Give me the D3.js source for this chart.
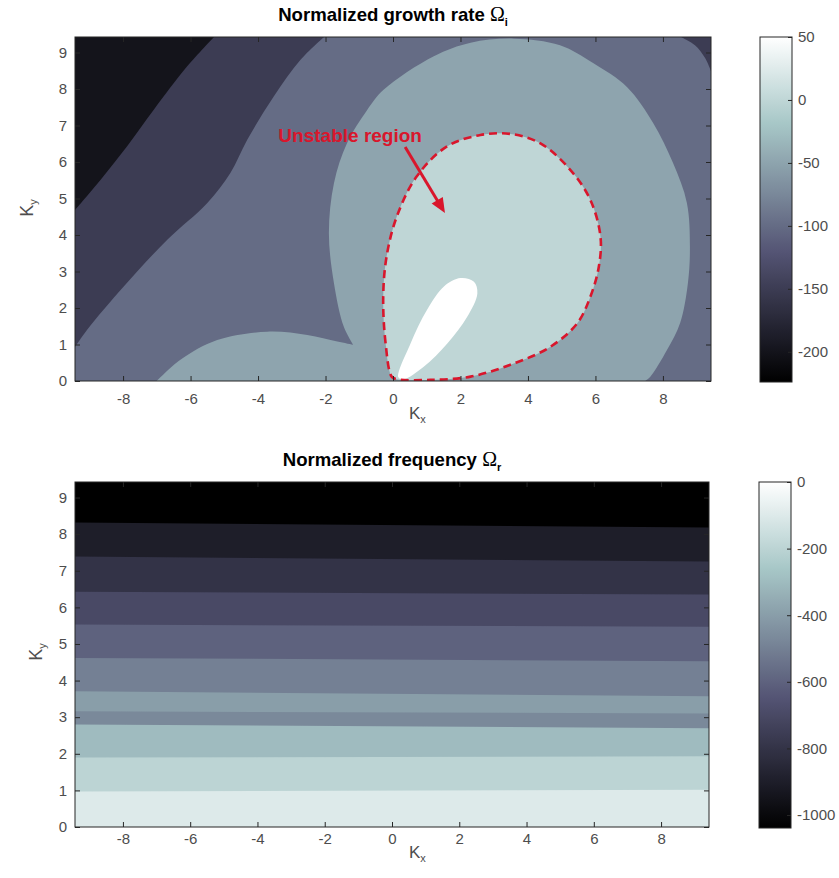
<!DOCTYPE html>
<html>
<head>
<meta charset="utf-8">
<script src="https://cdn.jsdelivr.net/npm/d3@7"></script>
<style>
  body { margin: 0; background: #fff; }
  text { font-family: "Liberation Sans", Arial, sans-serif; }
</style>
</head>
<body>
<svg id="fig"></svg>
<script>
// wave number axes run from -3pi..3pi (Kx) and 0..3pi (Ky)
const kxDomain = [-3 * Math.PI, 3 * Math.PI];
const kyDomain = [0, 3 * Math.PI];
const kxTicks = [-8, -6, -4, -2, 0, 2, 4, 6, 8];
const kyTicks = [0, 1, 2, 3, 4, 5, 6, 7, 8, 9];

// growth rate: colour range and colorbar ticks
const growthRange = [-224, 50];
const growthTicks = [-200, -150, -100, -50, 0, 50];

// growth rate contour zones, [Kx, Ky] boundary points
const backgroundLevel = -100;
const darkEdge = [[-2.05, 9.42], [-2.74, 8.8], [-3.53, 7.8], [-4.32, 6.61], [-4.82, 5.7], [-5.51, 4.87],
                  [-6.69, 3.87], [-7.98, 2.59], [-9.07, 1.40], [-9.42, 0.94]];
const darkLevel = -150;
const blackEdge = [[-5.31, 9.42], [-6.10, 8.62], [-7.09, 7.43], [-7.88, 6.43], [-8.67, 5.51], [-9.42, 4.69]];
const blackLevel = -200;
const cornerEdge = [[8.55, 9.42], [8.95, 9.2], [9.25, 8.85], [9.42, 8.5]];
const cornerLevel = -150;
const ringEdge = [[7.47, 0], [7.62, 0.11], [8.12, 0.85], [8.51, 1.59], [8.74, 2.68], [8.80, 3.67], [8.71, 4.88],
                  [8.30, 5.97], [7.71, 7.07], [6.94, 8.05], [5.93, 8.71], [4.95, 9.2], [3.58, 9.38], [2.3, 9.27],
                  [1.21, 8.9], [-0.28, 7.98], [-0.77, 7.42], [-1.36, 6.52], [-1.75, 5.42], [-1.9, 4.05],
                  [-1.75, 2.68], [-1.46, 1.49], [-1.18, 0.99]];
const domeEdge = [[-1.18, 0.99], [-1.65, 1.08], [-2.54, 1.26], [-3.73, 1.35], [-5.21, 1.12], [-6.3, 0.58], [-7.0, 0]];
const ringLevel = -50;
const unstableEdge = [[-0.04, 0.12], [-0.22, 1.04], [-0.29, 2.31], [-0.19, 3.41], [0.11, 4.5], [0.70, 5.6],
                      [1.59, 6.42], [2.59, 6.74], [3.48, 6.77], [4.37, 6.51], [5.26, 5.78], [5.85, 4.96],
                      [6.15, 3.95], [6.1, 3.13], [5.85, 2.31], [5.46, 1.58], [4.67, 0.94], [3.58, 0.48],
                      [2.30, 0.12], [1.11, 0.03], [0.11, 0.05]];
const unstableLevel = 0;
const peakEdge = [[0.16, 0.1], [0.52, 1.03], [1.01, 1.95], [1.51, 2.59], [2.0, 2.82], [2.40, 2.72], [2.50, 2.40],
                  [2.20, 1.76], [1.61, 1.03], [0.91, 0.39], [0.32, 0.05]];
const peakLevel = 50;

// annotation
const noteText = "Unstable region";
const noteAt = [-1.27, 6.56];
const arrowFrom = [0.36, 6.41];
const arrowTo = [1.54, 4.6];

// frequency: colour range, ticks and horizontal bands (edge Ky at left / right side)
const freqRange = [-1039, 0];
const freqTicks = [-1000, -800, -600, -400, -200, 0];
const freqLevels = [-100, -200, -300, -470, -400, -500, -600, -700, -800, -900, -1039];
const freqEdgeLeft = [0.97, 1.90, 2.80, 3.16, 3.71, 4.62, 5.53, 6.43, 7.39, 8.32];
const freqEdgeRight = [1.02, 1.93, 2.70, 3.10, 3.57, 4.53, 5.47, 6.35, 7.25, 8.18];

const red = "#d9162c";
const axisColor = "#262626";
const labelColor = "#4d4d4d";

// matlab "bone" colormap
function bone(t) {
  const c = v => Math.max(0, Math.min(1, v));
  const r = (7 * t + c(4 * t - 3)) / 8;
  const g = (7 * t + c(8 / 3 * t - 1)) / 8;
  const b = (7 * t + c(8 / 3 * t)) / 8;
  return d3.rgb(r * 255, g * 255, b * 255).formatHex();
}

const svg = d3.select("#fig").attr("width", 839).attr("height", 878);
const defs = svg.append("defs");

function drawPanel(p) {
  const x = d3.scaleLinear().domain(kxDomain).range([p.left, p.right]);
  const y = d3.scaleLinear().domain(kyDomain).range([p.bottom, p.top]);
  const color = d3.scaleSequential(bone).domain(p.range);

  defs.append("clipPath").attr("id", "clip-" + p.id)
    .append("rect")
    .attr("x", p.left).attr("y", p.top)
    .attr("width", p.right - p.left).attr("height", p.bottom - p.top);

  const plot = svg.append("g").attr("clip-path", "url(#clip-" + p.id + ")");
  p.fill(plot, x, y, color);

  // axes, ticks pointing inward
  const fmt = d => String(d);
  const axes = svg.append("g");
  axes.append("g").attr("transform", "translate(0," + p.bottom + ")")
    .call(d3.axisBottom(x).tickValues(kxTicks).tickSize(-5).tickPadding(p.xPad).tickFormat(fmt));
  axes.append("g").attr("transform", "translate(0," + p.top + ")")
    .call(d3.axisTop(x).tickValues(kxTicks).tickSize(-5).tickFormat(""));
  axes.append("g").attr("transform", "translate(" + p.left + ",0)")
    .call(d3.axisLeft(y).tickValues(kyTicks).tickSize(-5).tickPadding(8).tickFormat(fmt));
  axes.append("g").attr("transform", "translate(" + p.right + ",0)")
    .call(d3.axisRight(y).tickValues(kyTicks).tickSize(-5).tickFormat(""));
  axes.selectAll(".domain").remove();
  axes.selectAll(".tick line").attr("stroke", axisColor);
  axes.selectAll(".tick text").attr("fill", labelColor).style("font-size", "15px");

  svg.append("rect")
    .attr("x", p.left).attr("y", p.top)
    .attr("width", p.right - p.left).attr("height", p.bottom - p.top)
    .attr("fill", "none").attr("stroke", axisColor);

  // colorbar
  const grad = defs.append("linearGradient").attr("id", "grad-" + p.id)
    .attr("x1", 0).attr("y1", 1).attr("x2", 0).attr("y2", 0);
  grad.selectAll("stop").data(d3.range(0, 1.0001, 0.025)).join("stop")
    .attr("offset", d => d).attr("stop-color", d => bone(d));

  const cb = d3.scaleLinear().domain(p.range).range([p.cbBottom, p.cbTop]);
  svg.append("rect")
    .attr("x", p.cbLeft).attr("y", p.cbTop)
    .attr("width", p.cbWidth).attr("height", p.cbBottom - p.cbTop)
    .attr("fill", "url(#grad-" + p.id + ")")
    .attr("stroke", axisColor);
  const cbAxis = svg.append("g").attr("transform", "translate(" + (p.cbLeft + p.cbWidth) + ",0)")
    .call(d3.axisRight(cb).tickValues(p.ticks).tickSize(-4).tickPadding(6).tickFormat(fmt));
  cbAxis.select(".domain").remove();
  cbAxis.selectAll(".tick line").attr("stroke", axisColor);
  cbAxis.selectAll(".tick text").attr("fill", labelColor).style("font-size", "15px");

  // title
  const title = svg.append("text")
    .attr("x", (p.left + p.right) / 2).attr("y", p.titleY)
    .attr("text-anchor", "middle")
    .style("font-size", "18.6px").style("font-weight", "bold").attr("fill", "#000");
  title.append("tspan").text(p.title + " ");
  title.append("tspan").text("Ω")
    .style("font-family", "'Liberation Serif', serif").style("font-weight", "normal").style("font-size", "20px");
  title.append("tspan").text(p.sub).attr("dy", 5).style("font-size", "11px");

  // axis labels
  const kx = svg.append("text")
    .attr("x", p.kxX).attr("y", p.kxY)
    .attr("fill", labelColor).style("font-size", "17px");
  kx.append("tspan").text("K");
  kx.append("tspan").text("x").attr("dy", 4).style("font-size", "11px");

  const ky = svg.append("text")
    .attr("transform", "translate(" + p.kyX + "," + p.kyY + ") rotate(-90)")
    .attr("text-anchor", "middle")
    .attr("fill", labelColor).style("font-size", "18px");
  ky.append("tspan").text("K");
  ky.append("tspan").text("y").attr("dy", 4).style("font-size", "11px");
}

function smooth(x, y) {
  return d3.line().x(d => x(d[0])).y(d => y(d[1])).curve(d3.curveCatmullRom.alpha(0.5));
}

// join several curve pieces and straight corner points into one closed path
function zone(x, y, pieces, corners) {
  const line = smooth(x, y);
  let path = pieces.map((pts, i) => i === 0 ? line(pts) : line(pts).replace(/^M/, "L")).join("");
  corners.forEach(c => { path += "L" + x(c[0]) + "," + y(c[1]); });
  return path + "Z";
}

drawPanel({
  id: "growth", left: 75, right: 711, top: 37, bottom: 381, xPad: 12,
  range: growthRange, ticks: growthTicks,
  cbLeft: 760, cbWidth: 32, cbTop: 37, cbBottom: 382,
  title: "Normalized growth rate", sub: "i", titleY: 21,
  kxX: 409, kxY: 419, kyX: 33, kyY: 208,
  fill: (g, x, y, color) => {
    g.append("rect")
      .attr("x", x(kxDomain[0])).attr("y", y(kyDomain[1]))
      .attr("width", x(kxDomain[1]) - x(kxDomain[0])).attr("height", y(kyDomain[0]) - y(kyDomain[1]))
      .attr("fill", color(backgroundLevel));
    g.append("path").attr("fill", color(darkLevel))
      .attr("d", zone(x, y, [darkEdge], [[-10, 0.94], [-10, 10], [-2.05, 10]]));
    g.append("path").attr("fill", color(blackLevel))
      .attr("d", zone(x, y, [blackEdge], [[-10, 4.69], [-10, 10], [-5.31, 10]]));
    g.append("path").attr("fill", color(cornerLevel))
      .attr("d", zone(x, y, [cornerEdge], [[10, 8.5], [10, 10], [8.55, 10]]));
    g.append("path").attr("fill", color(ringLevel))
      .attr("d", zone(x, y, [ringEdge, domeEdge], [[-7.0, -1], [7.47, -1]]));

    const closed = d3.line().x(d => x(d[0])).y(d => y(d[1])).curve(d3.curveCatmullRomClosed.alpha(0.5));
    g.append("path").attr("fill", color(unstableLevel)).attr("d", closed(unstableEdge));
    g.append("path").attr("fill", color(peakLevel)).attr("d", closed(peakEdge));
    g.append("path").attr("fill", "none").attr("d", closed(unstableEdge))
      .attr("stroke", red).attr("stroke-width", 2.6)
      .attr("stroke-dasharray", "8,5");

    // annotation arrow
    const x0 = x(arrowFrom[0]), y0 = y(arrowFrom[1]);
    const x1 = x(arrowTo[0]), y1 = y(arrowTo[1]);
    const a = Math.atan2(y1 - y0, x1 - x0);
    const headLen = 15, headHalf = 6.5;
    const bx = x1 - headLen * Math.cos(a), by = y1 - headLen * Math.sin(a);
    g.append("line")
      .attr("x1", x0).attr("y1", y0).attr("x2", bx + 2 * Math.cos(a)).attr("y2", by + 2 * Math.sin(a))
      .attr("stroke", red).attr("stroke-width", 3);
    g.append("path").attr("fill", red)
      .attr("d", "M" + x1 + "," + y1 +
        "L" + (bx - headHalf * Math.sin(a)) + "," + (by + headHalf * Math.cos(a)) +
        "L" + (bx + headHalf * Math.sin(a)) + "," + (by - headHalf * Math.cos(a)) + "Z");
    g.append("text")
      .attr("x", x(noteAt[0])).attr("y", y(noteAt[1]))
      .attr("text-anchor", "middle")
      .attr("fill", red).style("font-size", "19px").style("font-weight", "bold")
      .text(noteText);
  }
});

drawPanel({
  id: "freq", left: 75, right: 709, top: 482, bottom: 827, xPad: 6,
  range: freqRange, ticks: freqTicks,
  cbLeft: 759, cbWidth: 32, cbTop: 482, cbBottom: 828,
  title: "Normalized frequency", sub: "r", titleY: 466,
  kxX: 409, kxY: 858, kyX: 42, kyY: 652,
  fill: (g, x, y, color) => {
    const poly = d3.line().x(d => x(d[0])).y(d => y(d[1]));
    // paint from the lowest band up; each band covers everything above its lower edge
    freqLevels.forEach((lv, i) => {
      const lo = i === 0 ? [-1, -1] : [freqEdgeLeft[i - 1], freqEdgeRight[i - 1]];
      const pts = [[-10, lo[0]], [kxDomain[0], lo[0]], [kxDomain[1], lo[1]], [10, lo[1]], [10, 11], [-10, 11]];
      g.append("path").attr("fill", color(lv)).attr("d", poly(pts) + "Z");
    });
  }
});
</script>
</body>
</html>
